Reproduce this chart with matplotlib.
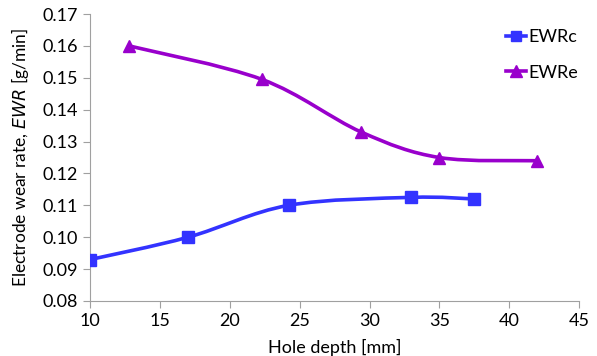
import numpy as np
import matplotlib
matplotlib.use('Agg')
import matplotlib.pyplot as plt
from matplotlib.path import Path
from matplotlib.patches import PathPatch
from matplotlib.lines import Line2D

# data
depth_c = [10.0, 17.0, 24.2, 33.0, 37.5]
ewr_c = [0.093, 0.100, 0.110, 0.1125, 0.112]
depth_e = [12.8, 22.3, 29.4, 35.0, 42.0]
ewr_e = [0.160, 0.1495, 0.133, 0.125, 0.124]

x_ticks = [10, 15, 20, 25, 30, 35, 40, 45]
y_ticks = [0.08, 0.09, 0.10, 0.11, 0.12, 0.13, 0.14, 0.15, 0.16, 0.17]

blue = '#3333FF'
purple = '#9900CC'


def smooth_path(xs, ys, tension=1 / 6):
    """Excel-like smoothed line as cubic Bezier segments through the points."""
    pts = np.column_stack([xs, ys])
    n = len(pts)
    verts = [pts[0]]
    codes = [Path.MOVETO]
    for i in range(n - 1):
        p0 = pts[i - 1] if i > 0 else pts[i]
        p1 = pts[i]
        p2 = pts[i + 1]
        p3 = pts[i + 2] if i + 2 < n else pts[i + 1]
        c1 = p1 + (p2 - p0) * tension
        c2 = p2 - (p3 - p1) * tension
        verts += [c1, c2, p2]
        codes += [Path.CURVE4] * 3
    return Path(verts, codes)


plt.rcParams['font.family'] = ['Lato', 'DejaVu Sans']
fig = plt.figure(figsize=(5.97, 3.56), dpi=100)
ax = fig.add_axes([0.151, 0.1545, 0.819, 0.806])

for xs, ys, col, mk, ms in [(depth_c, ewr_c, blue, 's', 8),
                            (depth_e, ewr_e, purple, '^', 9)]:
    ax.add_patch(PathPatch(smooth_path(xs, ys), fill=False, edgecolor=col,
                           lw=2.6, zorder=2, capstyle='round'))
    ax.plot(xs, ys, ls='none', marker=mk, ms=ms, color=col, zorder=3)

ax.set_xlim(10, 45)
ax.set_ylim(0.08, 0.17)
ax.set_xticks(x_ticks)
ax.set_yticks(y_ticks)
ax.set_yticklabels([f'{v:.2f}' for v in y_ticks])
ax.tick_params(axis='both', labelsize=13, color='#A0A0A0', length=5,
               direction='out', pad=4)
for side in ['top', 'right']:
    ax.spines[side].set_visible(False)
for side in ['left', 'bottom']:
    ax.spines[side].set_color('#A0A0A0')

ax.set_xlabel('Hole depth [mm]', fontsize=13, labelpad=7)
ax.set_ylabel('Electrode wear rate, $\\mathit{EWR}$ [g/min]', fontsize=12.5, labelpad=8)

handles = [Line2D([], [], color=blue, lw=2.6, marker='s', ms=7),
           Line2D([], [], color=purple, lw=2.6, marker='^', ms=8)]
ax.legend(handles, ['EWRc', 'EWRe'], loc='upper left', bbox_to_anchor=(0.818, 1.005),
          frameon=False, fontsize=13, handlelength=1.1, handletextpad=0.1,
          labelspacing=1.1)

fig.savefig('out.png', dpi=100)
